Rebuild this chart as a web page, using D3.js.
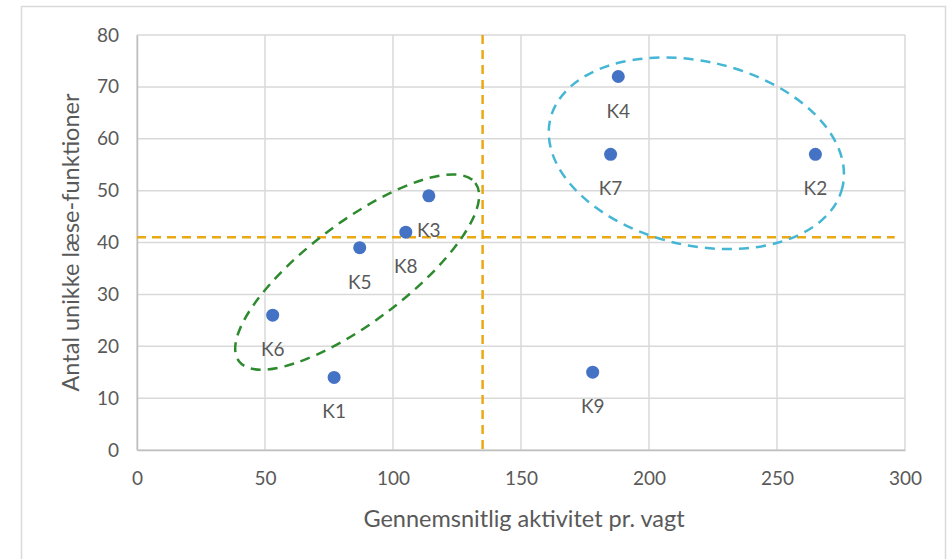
<!DOCTYPE html>
<html>
<head>
<meta charset="utf-8">
<script src="https://cdn.jsdelivr.net/npm/d3@7"></script>
<style>
  html, body { margin: 0; padding: 0; background: #ffffff; }
  svg { display: block; }
  text { font-family: Lato, "Open Sans", sans-serif; fill: #595959; }
</style>
</head>
<body>
<svg id="chart" width="950" height="559"></svg>
<script>
// Clinic points: average activity per shift vs. number of unique read functions
const names      = ["K1", "K2", "K3", "K4", "K5", "K6", "K7", "K8", "K9"];
const activity   = [77, 265, 114, 188, 87, 53, 185, 105, 178];
const functions  = [14, 57, 49, 72, 39, 26, 57, 42, 15];

// Axis ticks
const xTicks = [0, 50, 100, 150, 200, 250, 300];
const yTicks = [0, 10, 20, 30, 40, 50, 60, 70, 80];

// Average reference lines
const avgActivity  = 135;
const avgFunctions = 41;
const avgLineEnd   = 296;

// Group outlines: centre in data units
const groupNames   = ["low", "high"];
const groupCenterX = [86, 218.5];
const groupCenterY = [34.3, 57.2];

const xTitle = "Gennemsnitlig aktivitet pr. vagt";
const yTitle = "Antal unikke læse-funktioner";

const svg = d3.select("#chart");
const W = 950, H = 559;
const margin = { left: 137, top: 35, right: 45, bottom: 109 };

const x = d3.scaleLinear().domain([0, 300]).range([margin.left, W - margin.right]);
const y = d3.scaleLinear().domain([0, 80]).range([H - margin.bottom, margin.top]);

// Chart frame
svg.append("rect")
  .attr("x", 21.5).attr("y", 6.5)
  .attr("width", 924).attr("height", 600)
  .attr("fill", "#ffffff")
  .attr("stroke", "#d9d9d9").attr("stroke-width", 1.5);

// Gridlines
const grid = svg.append("g");
grid.selectAll("line.v").data(xTicks).join("line")
  .attr("x1", d => x(d)).attr("x2", d => x(d))
  .attr("y1", y(80)).attr("y2", y(0))
  .attr("stroke", "#d9d9d9").attr("stroke-width", 1.5);
grid.selectAll("line.h").data(yTicks).join("line")
  .attr("x1", x(0)).attr("x2", x(300))
  .attr("y1", d => y(d)).attr("y2", d => y(d))
  .attr("stroke", "#d9d9d9").attr("stroke-width", 1.5);

// Axes
const xAxis = svg.append("g")
  .attr("transform", `translate(0,${y(0)})`)
  .call(d3.axisBottom(x).tickValues(xTicks).tickSize(0).tickPadding(22));
xAxis.select(".domain").attr("stroke", "#bfbfbf").attr("stroke-width", 1.5);
xAxis.selectAll("text").style("font-size", "19px").attr("fill", "#595959");

const yAxis = svg.append("g")
  .attr("transform", `translate(${x(0)},0)`)
  .call(d3.axisLeft(y).tickValues(yTicks).tickSize(0).tickPadding(18));
yAxis.select(".domain").attr("stroke", "#bfbfbf").attr("stroke-width", 1.5);
yAxis.selectAll("text").style("font-size", "19px").attr("fill", "#595959");

// Axis titles
svg.append("text")
  .attr("x", (x(0) + x(300)) / 2 + 3).attr("y", 527)
  .attr("text-anchor", "middle")
  .style("font-size", "23.5px")
  .text(xTitle);

svg.append("text")
  .attr("transform", `translate(79,${(y(0) + y(80)) / 2}) rotate(-90)`)
  .attr("text-anchor", "middle")
  .style("font-size", "23.5px")
  .text(yTitle);

// Average reference lines
const gold = "#eaa814";
svg.append("line")
  .attr("x1", x(avgActivity)).attr("x2", x(avgActivity))
  .attr("y1", y(80)).attr("y2", y(0))
  .attr("stroke", gold).attr("stroke-width", 2.5)
  .attr("stroke-dasharray", "9,6");
svg.append("line")
  .attr("x1", x(0)).attr("x2", x(avgLineEnd))
  .attr("y1", y(avgFunctions)).attr("y2", y(avgFunctions))
  .attr("stroke", gold).attr("stroke-width", 2.5)
  .attr("stroke-dasharray", "9,6");

// Group outlines
const outlineStyle = {
  low:  { rx: 148, ry: 50, rot: -37, color: "#2e8a2e" },
  high: { rx: 150, ry: 92, rot: 13,  color: "#45b6d4" }
};
groupNames.forEach((g, i) => {
  const s = outlineStyle[g];
  svg.append("ellipse")
    .attr("transform", `translate(${x(groupCenterX[i])},${y(groupCenterY[i])}) rotate(${s.rot})`)
    .attr("rx", s.rx).attr("ry", s.ry)
    .attr("fill", "none")
    .attr("stroke", s.color).attr("stroke-width", 2.5)
    .attr("stroke-dasharray", "10,7");
});

// Points and labels
const pts = names.map((n, i) => ({ name: n, ax: activity[i], fn: functions[i] }));

svg.append("g").selectAll("circle").data(pts).join("circle")
  .attr("cx", d => x(d.ax)).attr("cy", d => y(d.fn))
  .attr("r", 6.5)
  .attr("fill", "#4472c4");

svg.append("g").selectAll("text").data(pts).join("text")
  .attr("x", d => x(d.ax)).attr("y", d => y(d.fn) + 41)
  .attr("text-anchor", "middle")
  .style("font-size", "19px")
  .text(d => d.name);
</script>
</body>
</html>
